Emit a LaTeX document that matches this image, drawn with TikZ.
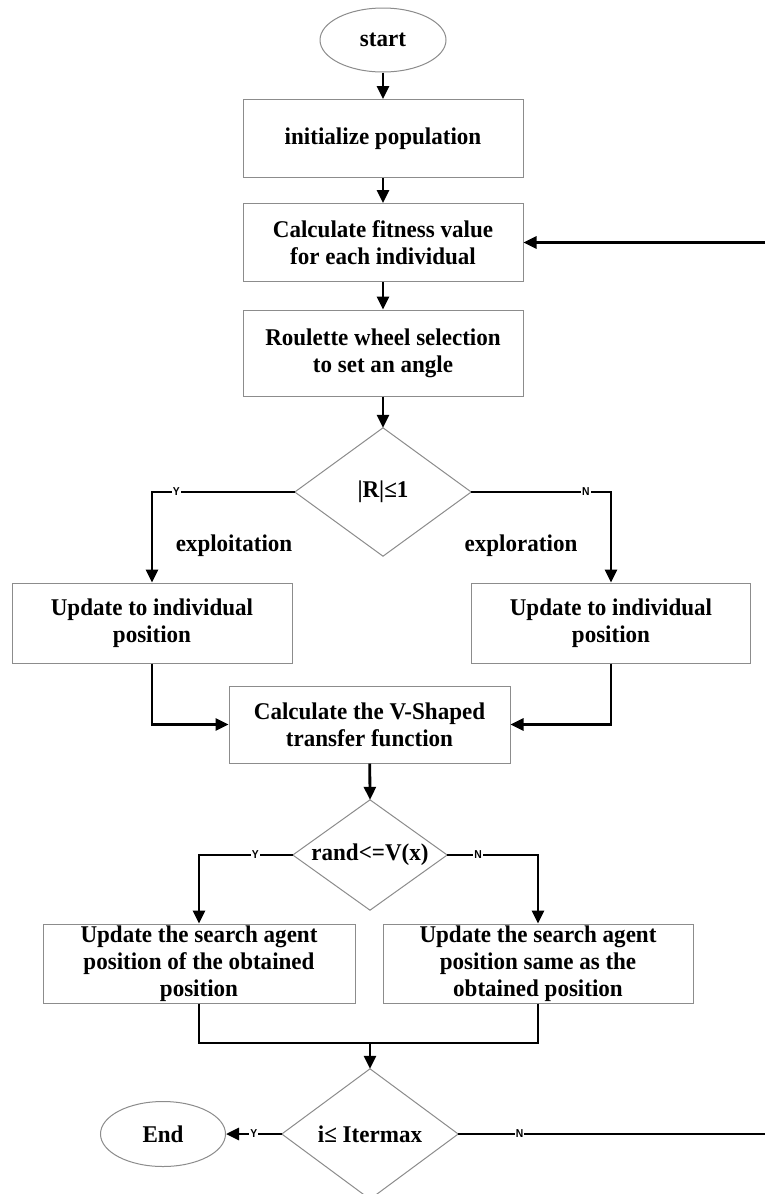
\documentclass[tikz,border=0pt]{standalone}
\usepackage{fontspec}
\setmainfont{Liberation Serif}[FakeStretch=0.96]
\newfontfamily\labelfont{Liberation Sans}[FakeStretch=0.9]
\usetikzlibrary{arrows.meta, shapes.geometric}
\definecolor{boxgray}{gray}{0.55}

\begin{document}
\begin{tikzpicture}[x=1pt, y=-1pt,
  txt/.style={font=\bfseries\fontsize{24}{27}\selectfont, align=center},
  box/.style={txt, draw=boxgray, line width=1pt, inner sep=0pt, minimum width=280pt, minimum height=78pt},
  term/.style={txt, draw=boxgray, line width=1pt, ellipse, inner sep=0pt},
  decide/.style={txt, rectangle, inner sep=0pt},
  outline/.style={draw=boxgray, line width=1pt},
  line/.style={draw=black, line width=2.8pt},
  conn/.style={line, -{Triangle[length=13pt,width=12pt]}},
  lbl/.style={fill=white, inner sep=1pt, font=\labelfont\bfseries\fontsize{11.5}{11.5}\selectfont},
  side/.style={font=\bfseries\fontsize{24}{27}\selectfont}
]
\fill[white] (0,0) rectangle (765,1194);
\useasboundingbox (0,0) rectangle (765,1194);

% process column
\node[term, minimum width=126pt, minimum height=64pt] (start) at (383,40) {start};
\node[box] (init) at (383,138.5) {initialize population};
\node[box] (fit) at (383,242.5) {Calculate fitness value\\for each individual};
\node[box, minimum height=86pt] (roul) at (383,353) {Roulette wheel selection\\to set an angle};

% first decision
\node[decide, minimum width=176pt, minimum height=128pt] (d1) at (383,492) {|R|≤1};
\draw[outline] (d1.west) -- (d1.north) -- (d1.east) -- (d1.south) -- cycle;
\node[side] (explt) at (234,546) {exploitation};
\node[side] (explr) at (521,546) {exploration};

\node[box, minimum width=280pt, minimum height=80pt] (lb) at (152,623) {Update to individual\\position};
\node[box, minimum width=279pt, minimum height=80pt] (rb) at (611,623) {Update to individual\\position};

\node[box, minimum width=281pt, minimum height=77pt] (vbox) at (369.5,724.5) {Calculate the V-Shaped\\transfer function};

% second decision
\node[decide, minimum width=154pt, minimum height=110pt] (d2) at (370,855) {rand<=V(x)};
\draw[outline] (d2.west) -- (d2.north) -- (d2.east) -- (d2.south) -- cycle;

\node[box, minimum width=312pt, minimum height=79pt] (lb3) at (199,963.5) {Update the search agent\\position of the obtained\\position};
\node[box, minimum width=310pt, minimum height=79pt] (rb3) at (538,963.5) {Update the search agent\\position same as the\\obtained position};

% loop test
\node[decide, minimum width=176pt, minimum height=130pt] (d3) at (370,1134) {i≤ Itermax};
\draw[outline] (d3.west) -- (d3.north) -- (d3.east) -- (d3.south) -- cycle;
\node[term, minimum width=125pt, minimum height=65pt] (end) at (163,1134) {End};

\coordinate (m) at (370,1043);
\coordinate (loopB) at (765,1134);
\coordinate (loopT) at (765,242.5);

% connectors
\draw[conn] (start) -- (init);
\draw[conn] (init) -- (fit);
\draw[conn] (fit) -- (roul);
\draw[conn] (roul) -- (d1.north);
\draw[conn] (d1.west) -| node[lbl, pos=0.415] {Y} (lb.north);
\draw[conn] (d1.east) -| node[lbl, pos=0.41] {N} (rb.north);
\draw[conn] (lb.south) |- (vbox.west);
\draw[conn] (rb.south) |- (vbox.east);
\draw[conn] (vbox) -- (d2.north);
\draw[conn] (d2.west) -| node[lbl, pos=0.2] {Y} (lb3.north);
\draw[conn] (d2.east) -| node[lbl, pos=0.17] {N} (rb3.north);
\draw[line] (lb3.south) |- (m);
\draw[line] (rb3.south) |- (m);
\draw[conn] (m) -- (d3.north);
\draw[conn] (d3.west) -- node[lbl] {Y} (end.east);
\draw[line] (d3.east) -- node[lbl, pos=0.2] {N} (loopB);
\draw[conn] (loopT) -- (fit.east);
\end{tikzpicture}
\end{document}
